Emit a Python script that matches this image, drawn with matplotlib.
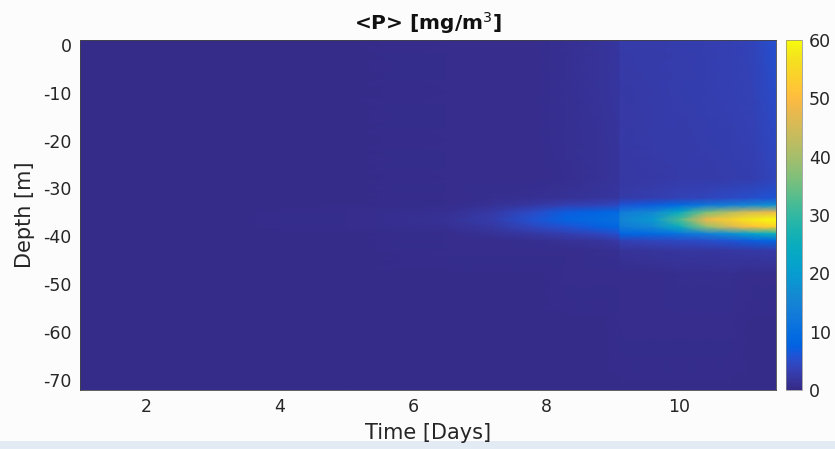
import numpy as np
import matplotlib
matplotlib.use("Agg")
import matplotlib.pyplot as plt
from matplotlib.colors import LinearSegmentedColormap
from matplotlib.patches import Rectangle

# MATLAB parula colormap (64 anchor colours)
parula_rgb = [
    [0.2081, 0.1663, 0.5292], [0.2116, 0.1898, 0.5777], [0.2123, 0.2138, 0.6270],
    [0.2081, 0.2386, 0.6771], [0.1959, 0.2645, 0.7279], [0.1707, 0.2919, 0.7792],
    [0.1253, 0.3242, 0.8303], [0.0591, 0.3598, 0.8683], [0.0117, 0.3875, 0.8820],
    [0.0060, 0.4086, 0.8828], [0.0165, 0.4266, 0.8786], [0.0329, 0.4430, 0.8720],
    [0.0498, 0.4586, 0.8641], [0.0629, 0.4737, 0.8554], [0.0723, 0.4887, 0.8467],
    [0.0779, 0.5040, 0.8384], [0.0793, 0.5200, 0.8312], [0.0749, 0.5375, 0.8263],
    [0.0641, 0.5570, 0.8240], [0.0488, 0.5772, 0.8228], [0.0343, 0.5966, 0.8199],
    [0.0265, 0.6137, 0.8135], [0.0239, 0.6287, 0.8038], [0.0231, 0.6418, 0.7913],
    [0.0228, 0.6535, 0.7768], [0.0267, 0.6642, 0.7607], [0.0384, 0.6743, 0.7436],
    [0.0590, 0.6838, 0.7254], [0.0843, 0.6928, 0.7062], [0.1133, 0.7015, 0.6859],
    [0.1453, 0.7098, 0.6646], [0.1801, 0.7177, 0.6424], [0.2178, 0.7250, 0.6193],
    [0.2586, 0.7317, 0.5954], [0.3022, 0.7376, 0.5712], [0.3482, 0.7424, 0.5473],
    [0.3953, 0.7459, 0.5244], [0.4420, 0.7481, 0.5033], [0.4871, 0.7491, 0.4840],
    [0.5300, 0.7491, 0.4661], [0.5709, 0.7485, 0.4494], [0.6099, 0.7473, 0.4337],
    [0.6473, 0.7456, 0.4188], [0.6834, 0.7435, 0.4044], [0.7184, 0.7411, 0.3905],
    [0.7525, 0.7384, 0.3768], [0.7858, 0.7356, 0.3633], [0.8185, 0.7327, 0.3498],
    [0.8507, 0.7299, 0.3360], [0.8824, 0.7274, 0.3217], [0.9139, 0.7258, 0.3063],
    [0.9450, 0.7261, 0.2886], [0.9739, 0.7314, 0.2666], [0.9938, 0.7455, 0.2403],
    [0.9990, 0.7653, 0.2164], [0.9955, 0.7861, 0.1967], [0.9880, 0.8066, 0.1794],
    [0.9789, 0.8271, 0.1633], [0.9697, 0.8481, 0.1475], [0.9626, 0.8705, 0.1309],
    [0.9589, 0.8949, 0.1132], [0.9598, 0.9218, 0.0948], [0.9661, 0.9514, 0.0755],
    [0.9763, 0.9831, 0.0538],
]
parula = LinearSegmentedColormap.from_list("parula", parula_rgb, N=256)

# Sampling times [days] and depths [m]
time_days = [1.0, 3.0, 5.0, 6.5, 7.2, 7.8, 8.3, 8.8, 9.09, 9.11, 9.6, 10.0, 10.4, 10.8, 11.1, 11.45]
depth_m = [1.0, -10.0, -20.0, -28.0, -32.0, -33.5, -35.0, -36.5, -38.0, -39.5, -41.0, -43.0, -48.0, -58.0, -72.0]

# Phytoplankton concentration <P> [mg/m^3], one row per depth
p_conc = [
    [0.4, 0.4, 0.4, 0.5, 0.6, 0.7, 1.1, 1.6, 2.0, 2.6, 2.8, 3.0, 3.2, 3.5, 3.9, 5.5],
    [0.4, 0.4, 0.4, 0.5, 0.6, 0.7, 1.0, 1.5, 1.9, 2.5, 2.7, 2.9, 3.1, 3.4, 3.7, 5.0],
    [0.4, 0.4, 0.4, 0.5, 0.6, 0.7, 1.0, 1.4, 1.8, 2.4, 2.6, 2.8, 3.0, 3.2, 3.5, 4.6],
    [0.4, 0.4, 0.4, 0.5, 0.6, 0.7, 0.9, 1.3, 1.7, 2.2, 2.4, 2.6, 2.8, 3.0, 3.2, 4.0],
    [0.4, 0.4, 0.4, 0.6, 0.8, 1.0, 1.3, 1.7, 2.1, 2.8, 3.2, 3.6, 4.2, 4.8, 5.3, 6.0],
    [0.4, 0.4, 0.4, 0.7, 1.3, 2.3, 3.3, 3.9, 4.5, 6.0, 7.0, 9.0, 12.0, 14.0, 16.0, 18.0],
    [0.4, 0.4, 0.5, 1.1, 2.4, 4.8, 6.8, 8.0, 9.0, 13.0, 16.0, 24.0, 36.0, 42.0, 46.0, 48.0],
    [0.4, 0.4, 0.5, 1.3, 2.9, 5.8, 7.8, 9.5, 10.5, 15.0, 19.0, 32.0, 48.0, 54.0, 58.0, 60.0],
    [0.4, 0.4, 0.5, 1.1, 2.3, 4.3, 5.8, 7.3, 8.5, 13.0, 16.0, 25.0, 38.0, 46.0, 51.0, 54.0],
    [0.4, 0.4, 0.4, 0.7, 1.2, 2.2, 3.2, 4.3, 5.5, 8.0, 9.0, 11.0, 14.0, 18.0, 22.0, 26.0],
    [0.4, 0.4, 0.4, 0.5, 0.7, 0.9, 1.3, 1.8, 2.4, 3.5, 4.0, 4.5, 5.0, 6.0, 7.0, 8.0],
    [0.4, 0.4, 0.4, 0.5, 0.5, 0.6, 0.7, 0.9, 1.1, 1.5, 1.7, 1.9, 2.1, 2.3, 2.5, 2.8],
    [0.4, 0.4, 0.4, 0.4, 0.4, 0.4, 0.5, 0.5, 0.6, 0.7, 0.7, 0.8, 0.8, 0.8, 0.7, 0.6],
    [0.4, 0.4, 0.4, 0.4, 0.4, 0.4, 0.4, 0.4, 0.5, 0.5, 0.5, 0.5, 0.5, 0.5, 0.4, 0.3],
    [0.4, 0.4, 0.4, 0.4, 0.4, 0.4, 0.4, 0.4, 0.4, 0.4, 0.4, 0.4, 0.4, 0.4, 0.4, 0.3],
]

x_ticks = [2, 4, 6, 8, 10]
y_ticks = [0, -10, -20, -30, -40, -50, -60, -70]
cbar_ticks = [0, 10, 20, 30, 40, 50, 60]

plt.rcParams["font.family"] = ["DejaVu Sans"]
plt.rcParams["axes.unicode_minus"] = False
text_col = "#262626"

W, H = 835, 449
fig = plt.figure(figsize=(W / 100, H / 100), dpi=100, facecolor="#fcfcfc")

ax = fig.add_axes([80 / W, 1 - 390 / H, (776 - 80) / W, (390 - 40) / H])
tt, dd = np.meshgrid(time_days, depth_m)
mesh = ax.pcolormesh(tt, dd, np.array(p_conc), cmap=parula, vmin=0, vmax=60,
                     shading="gouraud", rasterized=True)
ax.set_xlim(1.0, 11.45)
ax.set_ylim(-72.1, 1.0)
ax.set_xticks(x_ticks)
ax.set_yticks(y_ticks)
ax.tick_params(length=0, labelsize=12.5, colors=text_col, pad=6)
for s in ax.spines.values():
    s.set_linewidth(0.6)
    s.set_color("#444444")
ax.set_xlabel("Time [Days]", fontsize=15, color=text_col, labelpad=5)
ax.set_ylabel("Depth [m]", fontsize=15, color=text_col, labelpad=6)
ax.set_title(r"<P> [mg/m$^3$]", fontsize=14.5, fontweight="bold", color="#111111", pad=7)

cax = fig.add_axes([786 / W, 1 - 390 / H, 16 / W, (390 - 40) / H])
cb = fig.colorbar(mesh, cax=cax, ticks=cbar_ticks)
cb.outline.set_linewidth(0.5)
cb.outline.set_edgecolor("#888888")
cax.tick_params(length=0, labelsize=12.5, colors=text_col, pad=5)

# light band along the bottom edge of the window
fig.patches.append(Rectangle((0, 0), 1, 8 / H, transform=fig.transFigure,
                             facecolor="#e2ebf3", edgecolor="none", zorder=-1))

fig.savefig("out.png", dpi=100, facecolor=fig.get_facecolor())
